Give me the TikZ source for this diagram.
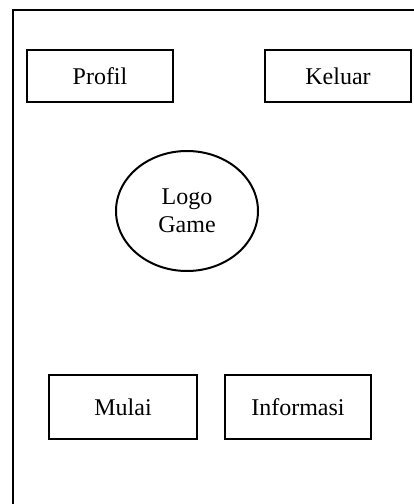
\documentclass[tikz,border=0pt]{standalone}
\usepackage{fontspec}
\setmainfont{Liberation Serif}
\usetikzlibrary{shapes.geometric}
\begin{document}
\begin{tikzpicture}[x=1pt,y=-1pt,
  frame/.style={draw=black,line width=2pt},
  menubtn/.style={frame,rectangle,inner sep=0pt,
    font=\fontsize{24}{28}\selectfont},
  logo/.style={frame,ellipse,inner sep=0pt,align=center,
    minimum width=142pt,minimum height=120pt,
    font=\fontsize{24}{28}\selectfont}]
  \useasboundingbox (0,0) rectangle (414,504);
  \clip (0,0) rectangle (414,504);
  % screen border (runs off the right and bottom edges)
  \draw[frame] (12.5,520) -- (12.5,10) -- (430,10);
  % top row buttons
  \node[menubtn,minimum width=146pt,minimum height=52pt] (profil) at (100,76) {Profil};
  \node[menubtn,minimum width=146pt,minimum height=52pt] (keluar) at (338,76) {Keluar};
  % game logo
  \node[logo] (logo) at (187,211) {Logo\\Game};
  % bottom row buttons
  \node[menubtn,minimum width=148pt,minimum height=64pt] (mulai) at (123,407) {Mulai};
  \node[menubtn,minimum width=146pt,minimum height=64pt] (info) at (298,407) {Informasi};
\end{tikzpicture}
\end{document}
